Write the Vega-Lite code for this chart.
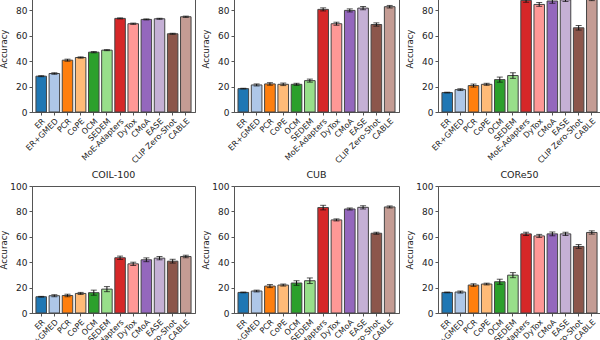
{
  "$schema": "https://vega.github.io/schema/vega-lite/v6.json",
  "padding": {"left": -1, "top": -20, "right": 0, "bottom": 0},
  "config": {
    "font": "DejaVu Sans",
    "view": {"stroke": "#555", "strokeWidth": 1},
    "axis": {"labelFont": "DejaVu Sans", "labelFontSize": 9, "labelColor": "#222", "titleFont": "DejaVu Sans", "titleFontSize": 8.5, "titleFontWeight": "normal", "titleColor": "#222", "domainColor": "#555", "tickColor": "#555", "tickSize": 3, "grid": false, "labelPadding": 2, "titlePadding": 1, "labelOverlap": false},
    "axisX": {"labelFontSize": 8},
    "title": {"font": "DejaVu Sans", "fontSize": 9.5, "fontWeight": "normal", "color": "#222", "offset": 3},
    "bar": {"stroke": "#444", "strokeWidth": 1}
  },
  "datasets": {
    "p1": [
      {"method": "ER", "acc": 28.2, "err": 0.4}, {"method": "ER+GMED", "acc": 30.3, "err": 0.6}, {"method": "PCR", "acc": 40.8, "err": 0.8}, {"method": "CoPE", "acc": 42.9, "err": 0.5}, {"method": "OCM", "acc": 47.1, "err": 0.5}, {"method": "SEDEM", "acc": 48.7, "err": 0.4}, {"method": "MoE-Adapters", "acc": 73.7, "err": 0.4}, {"method": "DyTox", "acc": 69.5, "err": 0.5}, {"method": "CMoA", "acc": 72.9, "err": 0.4}, {"method": "EASE", "acc": 73.4, "err": 0.4}, {"method": "CLIP Zero-Shot", "acc": 61.6, "err": 0.4}, {"method": "CABLE", "acc": 75.0, "err": 0.5}
    ],
    "p2": [
      {"method": "ER", "acc": 18.4, "err": 0.3}, {"method": "ER+GMED", "acc": 21.3, "err": 0.8}, {"method": "PCR", "acc": 22.1, "err": 1.0}, {"method": "CoPE", "acc": 21.8, "err": 1.0}, {"method": "OCM", "acc": 21.8, "err": 0.8}, {"method": "SEDEM", "acc": 24.7, "err": 1.2}, {"method": "MoE-Adapters", "acc": 80.8, "err": 1.2}, {"method": "DyTox", "acc": 69.5, "err": 1.2}, {"method": "CMoA", "acc": 80.0, "err": 1.2}, {"method": "EASE", "acc": 81.8, "err": 1.3}, {"method": "CLIP Zero-Shot", "acc": 68.9, "err": 1.3}, {"method": "CABLE", "acc": 82.9, "err": 1.0}
    ],
    "p3": [
      {"method": "ER", "acc": 15.3, "err": 0.3}, {"method": "ER+GMED", "acc": 17.6, "err": 0.7}, {"method": "PCR", "acc": 20.8, "err": 1.2}, {"method": "CoPE", "acc": 21.8, "err": 0.8}, {"method": "OCM", "acc": 25.5, "err": 2.0}, {"method": "SEDEM", "acc": 28.7, "err": 2.2}, {"method": "MoE-Adapters", "acc": 87.9, "err": 1.5}, {"method": "DyTox", "acc": 84.7, "err": 1.5}, {"method": "CMoA", "acc": 87.4, "err": 1.8}, {"method": "EASE", "acc": 88.3, "err": 1.3}, {"method": "CLIP Zero-Shot", "acc": 66.3, "err": 1.8}, {"method": "CABLE", "acc": 88.7, "err": 1.0}
    ],
    "coil": [
      {"method": "ER", "acc": 12.8, "err": 0.3}, {"method": "ER+GMED", "acc": 13.6, "err": 0.8}, {"method": "PCR", "acc": 13.8, "err": 1.0}, {"method": "CoPE", "acc": 15.4, "err": 0.8}, {"method": "OCM", "acc": 16.0, "err": 2.0}, {"method": "SEDEM", "acc": 18.8, "err": 2.0}, {"method": "MoE-Adapters", "acc": 43.5, "err": 1.3}, {"method": "DyTox", "acc": 38.7, "err": 1.3}, {"method": "CMoA", "acc": 41.9, "err": 1.5}, {"method": "EASE", "acc": 43.2, "err": 1.3}, {"method": "CLIP Zero-Shot", "acc": 40.8, "err": 1.5}, {"method": "CABLE", "acc": 44.5, "err": 1.0}
    ],
    "cub": [
      {"method": "ER", "acc": 16.2, "err": 0.3}, {"method": "ER+GMED", "acc": 17.3, "err": 0.7}, {"method": "PCR", "acc": 21.2, "err": 1.2}, {"method": "CoPE", "acc": 22.0, "err": 0.8}, {"method": "OCM", "acc": 23.6, "err": 1.8}, {"method": "SEDEM", "acc": 25.4, "err": 2.2}, {"method": "MoE-Adapters", "acc": 83.0, "err": 1.8}, {"method": "DyTox", "acc": 73.3, "err": 0.8}, {"method": "CMoA", "acc": 81.9, "err": 0.8}, {"method": "EASE", "acc": 83.2, "err": 1.3}, {"method": "CLIP Zero-Shot", "acc": 62.8, "err": 0.8}, {"method": "CABLE", "acc": 83.5, "err": 0.8}
    ],
    "core50": [
      {"method": "ER", "acc": 16.2, "err": 0.3}, {"method": "ER+GMED", "acc": 16.5, "err": 0.8}, {"method": "PCR", "acc": 22.0, "err": 1.0}, {"method": "CoPE", "acc": 22.8, "err": 0.7}, {"method": "OCM", "acc": 24.6, "err": 2.0}, {"method": "SEDEM", "acc": 29.8, "err": 2.0}, {"method": "MoE-Adapters", "acc": 62.3, "err": 1.3}, {"method": "DyTox", "acc": 60.7, "err": 1.2}, {"method": "CMoA", "acc": 62.3, "err": 1.5}, {"method": "EASE", "acc": 62.3, "err": 1.3}, {"method": "CLIP Zero-Shot", "acc": 52.4, "err": 1.5}, {"method": "CABLE", "acc": 63.4, "err": 1.3}
    ]
  },
  "spacing": 3,
  "vconcat": [
    {
      "spacing": 5,
      "hconcat": [
        {"width": 163, "height": 127, "data": {"name": "p1"},
         "encoding": {
           "x": {"field": "method", "type": "nominal", "sort": null, "scale": {"paddingInner": 0.2, "paddingOuter": 0.3}, "axis": {"title": null, "labelAngle": -45}},
           "y": {"field": "acc", "type": "quantitative", "title": "Accuracy", "scale": {"domain": [0, 100]}, "axis": {"values": [0, 20, 40, 60, 80, 100]}}
         },
         "layer": [
           {"mark": "bar", "encoding": {"color": {"field": "method", "type": "nominal", "legend": null, "scale": {"domain": ["ER", "ER+GMED", "PCR", "CoPE", "OCM", "SEDEM", "MoE-Adapters", "DyTox", "CMoA", "EASE", "CLIP Zero-Shot", "CABLE"], "range": ["#1f77b4", "#aec7e8", "#ff7f0e", "#ffbb78", "#2ca02c", "#98df8a", "#d62728", "#ff9896", "#9467bd", "#c5b0d5", "#8c564b", "#c49c94"]}}}},
           {"mark": {"type": "errorbar", "ticks": {"size": 6}, "color": "#111"}, "encoding": {"yError": {"field": "err"}}}
         ]},
        {"width": 165, "height": 127, "data": {"name": "p2"},
         "encoding": {
           "x": {"field": "method", "type": "nominal", "sort": null, "scale": {"paddingInner": 0.2, "paddingOuter": 0.3}, "axis": {"title": null, "labelAngle": -45}},
           "y": {"field": "acc", "type": "quantitative", "title": "Accuracy", "scale": {"domain": [0, 100]}, "axis": {"values": [0, 20, 40, 60, 80, 100]}}
         },
         "layer": [
           {"mark": "bar", "encoding": {"color": {"field": "method", "type": "nominal", "legend": null, "scale": {"domain": ["ER", "ER+GMED", "PCR", "CoPE", "OCM", "SEDEM", "MoE-Adapters", "DyTox", "CMoA", "EASE", "CLIP Zero-Shot", "CABLE"], "range": ["#1f77b4", "#aec7e8", "#ff7f0e", "#ffbb78", "#2ca02c", "#98df8a", "#d62728", "#ff9896", "#9467bd", "#c5b0d5", "#8c564b", "#c49c94"]}}}},
           {"mark": {"type": "errorbar", "ticks": {"size": 6}, "color": "#111"}, "encoding": {"yError": {"field": "err"}}}
         ]},
        {"width": 163, "height": 127, "data": {"name": "p3"},
         "encoding": {
           "x": {"field": "method", "type": "nominal", "sort": null, "scale": {"paddingInner": 0.2, "paddingOuter": 0.3}, "axis": {"title": null, "labelAngle": -45}},
           "y": {"field": "acc", "type": "quantitative", "title": "Accuracy", "scale": {"domain": [0, 100]}, "axis": {"values": [0, 20, 40, 60, 80, 100]}}
         },
         "layer": [
           {"mark": "bar", "encoding": {"color": {"field": "method", "type": "nominal", "legend": null, "scale": {"domain": ["ER", "ER+GMED", "PCR", "CoPE", "OCM", "SEDEM", "MoE-Adapters", "DyTox", "CMoA", "EASE", "CLIP Zero-Shot", "CABLE"], "range": ["#1f77b4", "#aec7e8", "#ff7f0e", "#ffbb78", "#2ca02c", "#98df8a", "#d62728", "#ff9896", "#9467bd", "#c5b0d5", "#8c564b", "#c49c94"]}}}},
           {"mark": {"type": "errorbar", "ticks": {"size": 6}, "color": "#111"}, "encoding": {"yError": {"field": "err"}}}
         ]}
      ]
    },
    {
      "spacing": 5,
      "hconcat": [
        {"width": 163, "height": 127, "title": "COIL-100", "data": {"name": "coil"},
         "encoding": {
           "x": {"field": "method", "type": "nominal", "sort": null, "scale": {"paddingInner": 0.2, "paddingOuter": 0.3}, "axis": {"title": null, "labelAngle": -45}},
           "y": {"field": "acc", "type": "quantitative", "title": "Accuracy", "scale": {"domain": [0, 100]}, "axis": {"values": [0, 20, 40, 60, 80, 100]}}
         },
         "layer": [
           {"mark": "bar", "encoding": {"color": {"field": "method", "type": "nominal", "legend": null, "scale": {"domain": ["ER", "ER+GMED", "PCR", "CoPE", "OCM", "SEDEM", "MoE-Adapters", "DyTox", "CMoA", "EASE", "CLIP Zero-Shot", "CABLE"], "range": ["#1f77b4", "#aec7e8", "#ff7f0e", "#ffbb78", "#2ca02c", "#98df8a", "#d62728", "#ff9896", "#9467bd", "#c5b0d5", "#8c564b", "#c49c94"]}}}},
           {"mark": {"type": "errorbar", "ticks": {"size": 6}, "color": "#111"}, "encoding": {"yError": {"field": "err"}}}
         ]},
        {"width": 165, "height": 127, "title": "CUB", "data": {"name": "cub"},
         "encoding": {
           "x": {"field": "method", "type": "nominal", "sort": null, "scale": {"paddingInner": 0.2, "paddingOuter": 0.3}, "axis": {"title": null, "labelAngle": -45}},
           "y": {"field": "acc", "type": "quantitative", "title": "Accuracy", "scale": {"domain": [0, 100]}, "axis": {"values": [0, 20, 40, 60, 80, 100]}}
         },
         "layer": [
           {"mark": "bar", "encoding": {"color": {"field": "method", "type": "nominal", "legend": null, "scale": {"domain": ["ER", "ER+GMED", "PCR", "CoPE", "OCM", "SEDEM", "MoE-Adapters", "DyTox", "CMoA", "EASE", "CLIP Zero-Shot", "CABLE"], "range": ["#1f77b4", "#aec7e8", "#ff7f0e", "#ffbb78", "#2ca02c", "#98df8a", "#d62728", "#ff9896", "#9467bd", "#c5b0d5", "#8c564b", "#c49c94"]}}}},
           {"mark": {"type": "errorbar", "ticks": {"size": 6}, "color": "#111"}, "encoding": {"yError": {"field": "err"}}}
         ]},
        {"width": 163, "height": 127, "title": "CORe50", "data": {"name": "core50"},
         "encoding": {
           "x": {"field": "method", "type": "nominal", "sort": null, "scale": {"paddingInner": 0.2, "paddingOuter": 0.3}, "axis": {"title": null, "labelAngle": -45}},
           "y": {"field": "acc", "type": "quantitative", "title": "Accuracy", "scale": {"domain": [0, 100]}, "axis": {"values": [0, 20, 40, 60, 80, 100]}}
         },
         "layer": [
           {"mark": "bar", "encoding": {"color": {"field": "method", "type": "nominal", "legend": null, "scale": {"domain": ["ER", "ER+GMED", "PCR", "CoPE", "OCM", "SEDEM", "MoE-Adapters", "DyTox", "CMoA", "EASE", "CLIP Zero-Shot", "CABLE"], "range": ["#1f77b4", "#aec7e8", "#ff7f0e", "#ffbb78", "#2ca02c", "#98df8a", "#d62728", "#ff9896", "#9467bd", "#c5b0d5", "#8c564b", "#c49c94"]}}}},
           {"mark": {"type": "errorbar", "ticks": {"size": 6}, "color": "#111"}, "encoding": {"yError": {"field": "err"}}}
         ]}
      ]
    }
  ]
}
